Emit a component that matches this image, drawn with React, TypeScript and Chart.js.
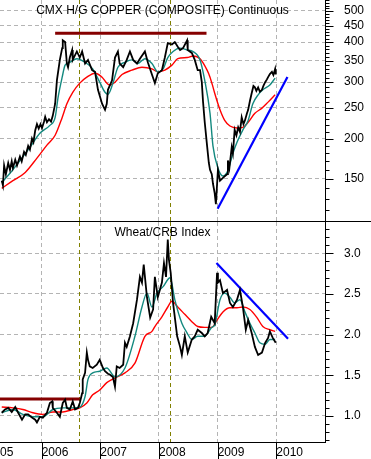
import React, { useEffect, useRef } from 'react';
import { Chart, registerables } from 'chart.js';

Chart.register(...registerables);

// ---------- axis / category data ----------
const X_MIN = 2005.29;
const X_MAX = 2010.83;
const yearTicks = [2006, 2007, 2008, 2009, 2010];
const firstLabel = '05';
const markerYears = [2006.64, 2008.19];

// ---------- CMX copper ----------
const copperTitle = 'CMX H/G COPPER (COMPOSITE) Continuous';
const copperRange = [110, 541];
const copperTicks = [150, 200, 250, 300, 350, 400, 450, 500];

const copperDates = [
  2005.32, 2005.34, 2005.36, 2005.39, 2005.43, 2005.46, 2005.49, 2005.51, 2005.55, 2005.58,
  2005.63, 2005.66, 2005.70, 2005.73, 2005.77, 2005.80, 2005.835, 2005.86, 2005.89, 2005.92,
  2005.95, 2005.98, 2006.006, 2006.04, 2006.06, 2006.09, 2006.125, 2006.16, 2006.19,
  2006.23, 2006.26, 2006.31, 2006.35, 2006.36, 2006.40, 2006.43, 2006.45,
  2006.48, 2006.52, 2006.53, 2006.60, 2006.65, 2006.69, 2006.74, 2006.79, 2006.86, 2006.91,
  2006.96, 2007.03, 2007.08, 2007.11, 2007.13, 2007.20, 2007.25, 2007.30, 2007.33, 2007.39,
  2007.45, 2007.505, 2007.56, 2007.625, 2007.675, 2007.76, 2007.81, 2007.88, 2007.93, 2007.98,
  2008.05, 2008.10, 2008.15, 2008.22, 2008.27, 2008.32, 2008.36, 2008.41, 2008.48, 2008.49,
  2008.56, 2008.61, 2008.66, 2008.70, 2008.73, 2008.75, 2008.78, 2008.82, 2008.85, 2008.87,
  2008.90, 2008.92, 2008.95, 2008.97, 2009.005, 2009.04, 2009.09, 2009.16, 2009.175, 2009.20,
  2009.24, 2009.26, 2009.29, 2009.32, 2009.35, 2009.38, 2009.41, 2009.44, 2009.465, 2009.50,
  2009.52, 2009.55, 2009.58, 2009.61, 2009.635, 2009.66, 2009.69, 2009.72, 2009.755, 2009.78,
  2009.81, 2009.84, 2009.86, 2009.89, 2009.925, 2009.95, 2009.98, 2009.99,
];
const copperClose = [
  148, 143, 165, 155, 168, 160, 170, 162, 172, 165,
  176, 170, 182, 178, 190, 185, 200, 195, 212, 222,
  215, 222, 216, 226, 234, 225, 230, 226, 236,
  257, 304, 352, 383, 405, 400, 343, 334,
  358, 378, 352, 374, 358, 374, 343, 352, 327, 323,
  284, 257, 246, 257, 284, 304, 358, 374, 343, 334,
  352, 374, 352, 343, 355, 374, 346, 317, 298, 320,
  327, 358, 397, 393, 400, 387, 378, 383, 405, 378,
  370, 352, 327, 327, 300, 262, 225, 190, 168, 160,
  155, 145, 135, 125, 160, 148, 151, 155, 171, 162,
  188, 180, 213, 205, 217, 210, 233, 222, 228, 240,
  246, 262, 277, 292, 289, 282, 289, 280, 284, 292,
  300, 306, 311, 318, 323, 316, 330, 317,
];

const copperFastDates = [
  2005.32, 2005.46, 2005.63, 2005.80, 2005.97, 2006.14, 2006.23, 2006.28, 2006.35, 2006.40,
  2006.48, 2006.60, 2006.74, 2006.87, 2006.99, 2007.08, 2007.13, 2007.215, 2007.30, 2007.42,
  2007.54, 2007.64, 2007.76, 2007.88, 2007.98, 2008.07, 2008.15, 2008.24, 2008.36, 2008.48,
  2008.58, 2008.70, 2008.78, 2008.87, 2008.92, 2009.005, 2009.09, 2009.175, 2009.26, 2009.33,
  2009.43, 2009.52, 2009.60, 2009.69, 2009.77, 2009.89, 2009.98,
];
const copperFast = [
  146, 156, 171, 188, 208, 220, 233, 269, 311, 339,
  346, 355, 346, 330, 300, 279, 275, 298, 334, 346,
  352, 343, 355, 343, 323, 330, 358, 374, 383, 378,
  374, 352, 304, 240, 190, 162, 153, 159, 180, 195,
  213, 228, 257, 274, 284, 294, 309,
];

const copperSlowDates = [
  2005.32, 2005.51, 2005.72, 2005.92, 2006.09, 2006.23, 2006.35, 2006.43, 2006.53, 2006.65,
  2006.77, 2006.91, 2007.03, 2007.11, 2007.16, 2007.25, 2007.37, 2007.54, 2007.71, 2007.88,
  2007.98, 2008.10, 2008.22, 2008.32, 2008.48, 2008.58, 2008.70, 2008.82, 2008.87, 2008.92,
  2008.95, 2009.04, 2009.12, 2009.21, 2009.33, 2009.43, 2009.52, 2009.635, 2009.755, 2009.86,
  2009.98,
];
const copperSlow = [
  140, 148, 157, 174, 191, 205, 233, 257, 279, 298,
  311, 320, 311, 298, 294, 300, 317, 327, 334, 330,
  323, 327, 339, 355, 358, 362, 355, 327, 311, 290,
  277, 246, 228, 219, 216, 217, 225, 240, 249, 260,
  274,
];

const copperResistanceDates = [2006.23, 2008.81];
const copperResistance = [426, 426];
const copperTrendDates = [2009.0, 2010.19];
const copperTrend = [121, 311.5];

// ---------- Wheat / CRB ----------
const wheatTitle = 'Wheat/CRB Index';
const wheatRange = [0.668, 3.385];
const wheatTicks = [1.0, 1.5, 2.0, 2.5, 3.0];

const wheatDates = [
  2005.32, 2005.375, 2005.43, 2005.49, 2005.55, 2005.60, 2005.665, 2005.72, 2005.77, 2005.835,
  2005.89, 2005.92, 2005.97, 2006.02, 2006.09, 2006.14, 2006.18, 2006.19, 2006.26, 2006.31,
  2006.36, 2006.40, 2006.43, 2006.48, 2006.53, 2006.57, 2006.62, 2006.65, 2006.69, 2006.70,
  2006.74, 2006.77, 2006.79, 2006.82, 2006.87, 2006.94, 2006.99, 2007.045, 2007.08, 2007.13,
  2007.16, 2007.215, 2007.25, 2007.28, 2007.33, 2007.39, 2007.42, 2007.45, 2007.505, 2007.56,
  2007.625, 2007.675, 2007.71, 2007.74, 2007.795, 2007.85, 2007.90, 2007.93, 2007.98, 2008.05,
  2008.085, 2008.12, 2008.15, 2008.17, 2008.20, 2008.24, 2008.31, 2008.36, 2008.39, 2008.44,
  2008.49, 2008.56, 2008.61, 2008.66, 2008.73, 2008.78, 2008.83, 2008.89, 2008.92, 2008.95,
  2008.99, 2009.005, 2009.04, 2009.09, 2009.16, 2009.21, 2009.26, 2009.33, 2009.38, 2009.43,
  2009.48, 2009.52, 2009.58, 2009.635, 2009.69, 2009.755, 2009.81, 2009.86, 2009.89, 2009.94,
  2009.99,
];
const wheatClose = [
  1.04, 1.08, 1.10, 1.05, 1.11, 1.04, 0.955, 1.02, 1.02, 0.98,
  0.955, 0.92, 0.99, 0.98, 1.04, 1.16, 1.18, 1.10, 1.04, 0.99,
  1.16, 1.20, 1.10, 1.08, 1.18, 1.08, 1.10, 1.16, 1.28, 1.45,
  1.53, 1.78, 1.69, 1.61, 1.59, 1.63, 1.69, 1.59, 1.55, 1.52,
  1.51, 1.48, 1.36, 1.61, 1.59, 1.63, 1.90, 1.85, 1.98, 2.14,
  2.43, 2.71, 2.64, 2.86, 2.46, 2.21, 2.31, 2.71, 2.46, 2.64,
  2.88, 2.71, 3.17, 2.92, 2.76, 2.39, 1.98, 1.85, 1.75, 1.98,
  1.78, 1.94, 1.98, 2.06, 2.02, 1.98, 2.02, 2.22, 2.18, 2.14,
  2.76, 2.64, 2.67, 2.51, 2.55, 2.39, 2.34, 2.43, 2.55, 2.34,
  2.06, 2.18, 2.02, 1.85, 1.75, 1.78, 1.90, 1.96, 2.04, 1.96,
  1.90,
];

const wheatFastDates = [
  2005.32, 2005.51, 2005.68, 2005.85, 2006.02, 2006.19, 2006.36, 2006.53, 2006.65, 2006.74,
  2006.79, 2006.87, 2006.99, 2007.11, 2007.25, 2007.42, 2007.59, 2007.71, 2007.795, 2007.88,
  2007.965, 2008.07, 2008.19, 2008.27, 2008.39, 2008.48, 2008.56, 2008.66, 2008.78, 2008.90,
  2008.95, 2009.04, 2009.12, 2009.21, 2009.29, 2009.38, 2009.465, 2009.55, 2009.635, 2009.72,
  2009.81, 2009.89, 2009.98,
];
const wheatFast = [
  1.04, 1.08, 1.02, 0.99, 0.99, 1.08, 1.10, 1.10, 1.11, 1.24,
  1.45, 1.53, 1.55, 1.59, 1.48, 1.59, 1.98, 2.34, 2.51, 2.34,
  2.51, 2.59, 2.70, 2.43, 2.14, 2.02, 1.94, 1.98, 1.98, 2.09,
  2.12, 2.43, 2.51, 2.46, 2.39, 2.43, 2.28, 2.14, 2.02, 1.90,
  1.88, 1.94, 1.94,
];

const wheatSlowDates = [
  2005.32, 2005.51, 2005.68, 2005.85, 2006.02, 2006.19, 2006.36, 2006.53, 2006.65, 2006.77,
  2006.87, 2006.99, 2007.11, 2007.25, 2007.42, 2007.59, 2007.76, 2007.88, 2007.93, 2008.05,
  2008.15, 2008.22, 2008.32, 2008.44, 2008.56, 2008.66, 2008.78, 2008.90, 2008.99, 2009.09,
  2009.21, 2009.33, 2009.43, 2009.55, 2009.67, 2009.77, 2009.89, 2009.98,
];
const wheatSlow = [
  1.11, 1.10, 1.08, 1.04, 1.02, 1.05, 1.05, 1.08, 1.10, 1.16,
  1.26, 1.32, 1.41, 1.47, 1.53, 1.65, 1.98, 2.04, 2.10, 2.22,
  2.34, 2.41, 2.34, 2.25, 2.16, 2.10, 2.09, 2.09, 2.18, 2.28,
  2.33, 2.33, 2.34, 2.31, 2.21, 2.10, 2.06, 2.04,
];

const wheatSupportDates = [2005.29, 2006.65];
const wheatSupport = [1.21, 1.21];
const wheatTrendDates = [2008.98, 2010.2];
const wheatTrend = [2.88, 1.95];

// ---------- styles ----------
const FONT_FAMILY = '"Liberation Sans", Arial, Helvetica, sans-serif';
const GRID = '#b4b4b4';
const OLIVE = '#808000';
const TEAL = '#13897f';
const RED = '#ff0000';
const BROWN = '#850000';
const BLUE = '#0000ff';

const toXY = (xs: number[], ys: number[]) => xs.map((x, i) => ({ x, y: ys[i] }));

type PanelCfg = {
  key: string;
  title: string;
  logScale: boolean;
  range: number[];
  majors: number[];
  minors: number[];
  fmt: (v: number) => string;
  showLabels: boolean;
  fullSeparator: boolean;
  series: any[];
};

function makeFrame(cfg: PanelCfg) {
  return {
    id: 'frame_' + cfg.key,
    beforeDatasetsDraw(chart: any) {
      const { ctx, chartArea } = chart;
      const xs = chart.scales.x;
      ctx.save();
      ctx.strokeStyle = OLIVE;
      ctx.lineWidth = 1;
      ctx.setLineDash([4, 3]);
      markerYears.forEach((m) => {
        const px = Math.round(xs.getPixelForValue(m)) + 0.5;
        ctx.beginPath();
        ctx.moveTo(px, chartArea.top);
        ctx.lineTo(px, chartArea.bottom);
        ctx.stroke();
      });
      ctx.restore();
    },
    afterDraw(chart: any) {
      const { ctx, chartArea, width, height } = chart;
      const { left, right, top, bottom } = chartArea;
      const ys = chart.scales.y;
      const xs = chart.scales.x;
      ctx.save();
      ctx.setLineDash([]);
      ctx.strokeStyle = '#000';
      ctx.lineWidth = 1;
      const ax = Math.round(right) + 0.5;
      ctx.beginPath();
      ctx.moveTo(ax, top);
      ctx.lineTo(ax, bottom);
      ctx.stroke();
      cfg.minors.forEach((v) => {
        const py = Math.round(ys.getPixelForValue(v)) + 0.5;
        if (py < top || py > bottom) return;
        const isMajor = cfg.majors.some((m) => Math.abs(m - v) < 1e-6);
        ctx.beginPath();
        ctx.moveTo(ax, py);
        ctx.lineTo(ax + (isMajor ? 8 : 4), py);
        ctx.stroke();
      });
      const by = Math.round(bottom) - 0.5;
      ctx.beginPath();
      ctx.moveTo(left, by);
      ctx.lineTo(cfg.fullSeparator ? width : ax, by);
      ctx.stroke();
      if (cfg.showLabels) {
        yearTicks.forEach((yv) => {
          const px = Math.round(xs.getPixelForValue(yv)) + 0.5;
          ctx.beginPath();
          ctx.moveTo(px, bottom);
          ctx.lineTo(px, height);
          ctx.stroke();
        });
      }
      ctx.fillStyle = '#000';
      ctx.font = '12px ' + FONT_FAMILY;
      ctx.textAlign = 'center';
      ctx.textBaseline = 'alphabetic';
      ctx.fillText(cfg.title, (left + right) / 2, top + 14);
      ctx.restore();
    },
  };
}

function buildChart(canvas: HTMLCanvasElement, cfg: PanelCfg) {
  const font = { family: FONT_FAMILY, size: 12 };
  return new Chart(canvas, {
    type: 'line',
    data: { datasets: cfg.series },
    options: {
      animation: false,
      responsive: false,
      maintainAspectRatio: false,
      events: [],
      layout: { padding: 0 },
      plugins: {
        legend: { display: false },
        tooltip: { enabled: false },
        title: { display: false },
      },
      elements: { point: { radius: 0 } },
      scales: {
        x: {
          type: 'linear',
          min: X_MIN,
          max: X_MAX,
          afterBuildTicks: (s: any) => {
            s.ticks = [X_MIN, ...yearTicks].map((v) => ({ value: v }));
          },
          afterFit: (s: any) => {
            s.height = cfg.showLabels ? 16 : 0;
            s.paddingLeft = 0;
            s.paddingRight = 0;
          },
          ticks: {
            display: cfg.showLabels,
            autoSkip: false,
            maxRotation: 0,
            minRotation: 0,
            align: 'start',
            padding: 2,
            color: '#000',
            font,
            callback: (v: any) => (Math.abs(v - X_MIN) < 1e-6 ? firstLabel : String(Math.round(v))),
          },
          grid: {
            drawTicks: false,
            lineWidth: 1,
            color: (c: any) => (c.tick && Math.abs(c.tick.value - X_MIN) < 1e-6 ? 'rgba(0,0,0,0)' : GRID),
          },
          border: { display: false, dash: [4, 3] },
        },
        y: {
          type: cfg.logScale ? 'logarithmic' : 'linear',
          position: 'right',
          min: cfg.range[0],
          max: cfg.range[1],
          afterBuildTicks: (s: any) => {
            s.ticks = cfg.majors.map((v) => ({ value: v }));
          },
          afterFit: (s: any) => {
            s.width = 46;
            s.paddingTop = 0;
            s.paddingBottom = 0;
          },
          ticks: {
            autoSkip: false,
            padding: 19,
            color: '#000',
            font,
            callback: (v: any) => cfg.fmt(Number(v)),
          },
          grid: { drawTicks: false, lineWidth: 1, color: GRID },
          border: { display: false, dash: [4, 3] },
        },
      },
    } as any,
    plugins: [makeFrame(cfg)],
  });
}

function lineDs(data: any[], color: string, width: number, smooth: boolean) {
  return {
    data,
    borderColor: color,
    backgroundColor: color,
    borderWidth: width,
    pointRadius: 0,
    fill: false,
    tension: smooth ? 0.4 : 0,
    cubicInterpolationMode: smooth ? 'monotone' : 'default',
  };
}

const copperMinors: number[] = [];
for (let v = 110; v <= 540; v += 10) copperMinors.push(v);
const wheatMinors: number[] = [];
for (let i = 7; i <= 33; i++) wheatMinors.push(i / 10);

export default function App() {
  const topRef = useRef<HTMLCanvasElement>(null);
  const botRef = useRef<HTMLCanvasElement>(null);

  useEffect(() => {
    const top = buildChart(topRef.current!, {
      key: 'copper',
      title: copperTitle,
      logScale: true,
      range: copperRange,
      majors: copperTicks,
      minors: copperMinors,
      fmt: (v) => String(Math.round(v)),
      showLabels: false,
      fullSeparator: true,
      series: [
        lineDs(toXY(copperDates, copperClose), '#000', 1.8, false),
        lineDs(toXY(copperFastDates, copperFast), TEAL, 1.4, true),
        lineDs(toXY(copperSlowDates, copperSlow), RED, 1.4, true),
        lineDs(toXY(copperResistanceDates, copperResistance), BROWN, 3, false),
        lineDs(toXY(copperTrendDates, copperTrend), BLUE, 2.2, false),
      ],
    });
    const bot = buildChart(botRef.current!, {
      key: 'wheat',
      title: wheatTitle,
      logScale: false,
      range: wheatRange,
      majors: wheatTicks,
      minors: wheatMinors,
      fmt: (v) => v.toFixed(1),
      showLabels: true,
      fullSeparator: false,
      series: [
        lineDs(toXY(wheatDates, wheatClose), '#000', 1.8, false),
        lineDs(toXY(wheatFastDates, wheatFast), TEAL, 1.4, true),
        lineDs(toXY(wheatSlowDates, wheatSlow), RED, 1.4, true),
        lineDs(toXY(wheatSupportDates, wheatSupport), BROWN, 3, false),
        lineDs(toXY(wheatTrendDates, wheatTrend), BLUE, 2.2, false),
      ],
    });
    return () => {
      top.destroy();
      bot.destroy();
    };
  }, []);

  return (
    <div style={{ position: 'fixed', left: 0, top: 0, width: 371, height: 459, background: '#fff', overflow: 'hidden' }}>
      <canvas ref={topRef} width={371} height={222} style={{ position: 'absolute', left: 0, top: 0, width: 371, height: 222 }} />
      <canvas ref={botRef} width={371} height={237} style={{ position: 'absolute', left: 0, top: 222, width: 371, height: 237 }} />
    </div>
  );
}
